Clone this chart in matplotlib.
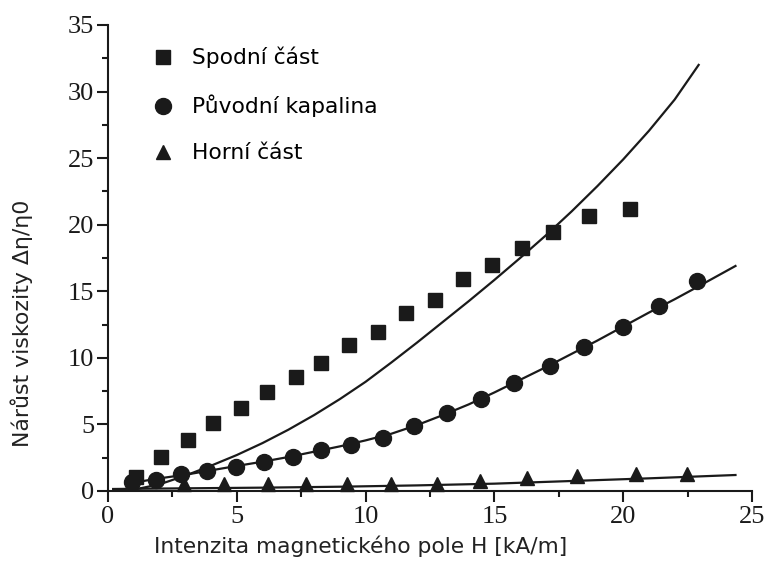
import matplotlib
matplotlib.use("Agg")
import matplotlib.pyplot as plt
from matplotlib.ticker import MultipleLocator

# měřené body
spodni_x = [1.08, 2.05, 3.09, 4.06, 5.16, 6.18, 7.28, 8.28, 9.36, 10.48, 11.57,
            12.68, 13.79, 14.89, 16.08, 17.26, 18.68, 20.27]
spodni_y = [1.07, 2.53, 3.83, 5.09, 6.21, 7.40, 8.59, 9.59, 10.99, 11.92, 13.35,
            14.35, 15.91, 16.98, 18.23, 19.44, 20.66, 21.16]

puvodni_x = [0.95, 1.88, 2.83, 3.86, 4.97, 6.04, 7.17, 8.28, 9.44, 10.67, 11.88,
             13.18, 14.5, 15.76, 17.16, 18.48, 19.99, 21.4, 22.87]
puvodni_y = [0.70, 0.83, 1.26, 1.53, 1.83, 2.21, 2.53, 3.08, 3.46, 4.0, 4.89,
             5.89, 6.92, 8.14, 9.42, 10.85, 12.35, 13.93, 15.79]

horni_x = [2.96, 4.51, 6.2, 7.69, 9.27, 11.0, 12.77, 14.44, 16.25, 18.2, 20.49, 22.48]
horni_y = [0.5, 0.55, 0.5, 0.5, 0.5, 0.5, 0.55, 0.77, 1.0, 1.15, 1.25, 1.3]

# proložené křivky
fit_spodni_x = [1.0, 2, 3, 4, 5, 6, 7, 8, 9, 10, 11, 12, 13, 14, 15, 16, 17, 18,
                19, 20, 21, 22, 22.93]
fit_spodni_y = [0.1, 0.5, 1.15, 1.9, 2.7, 3.6, 4.6, 5.7, 6.9, 8.2, 9.65, 11.15,
                12.7, 14.25, 15.85, 17.5, 19.2, 21.0, 22.9, 24.9, 27.05, 29.4, 32.0]

fit_puvodni_x = [0.9, 2, 3, 4, 5, 6, 7, 8, 9, 10, 11, 12, 13, 14, 15, 16, 17, 18,
                 19, 20, 21, 22, 23, 24.36]
fit_puvodni_y = [0.6, 0.95, 1.22, 1.55, 1.88, 2.2, 2.55, 2.95, 3.35, 3.8, 4.3,
                 4.95, 5.7, 6.5, 7.4, 8.35, 9.3, 10.3, 11.3, 12.35, 13.4, 14.4,
                 15.45, 16.9]

fit_horni_x = [0.2, 3, 6, 9, 12, 15, 18, 21, 24.36]
fit_horni_y = [0.15, 0.2, 0.25, 0.32, 0.42, 0.55, 0.75, 0.95, 1.2]

nazvy = ["Spodní část", "Původní kapalina", "Horní část"]

barva = "#1a1a1a"
plt.rcParams["font.family"] = ["DejaVu Sans"]

fig = plt.figure(figsize=(7.67, 5.65), dpi=100)
ax = fig.add_axes([0.1408, 0.1310, 0.8396, 0.8248])

ax.plot(fit_spodni_x, fit_spodni_y, color=barva, lw=1.6)
ax.plot(fit_puvodni_x, fit_puvodni_y, color=barva, lw=1.6)
ax.plot(fit_horni_x, fit_horni_y, color=barva, lw=1.6)

ax.plot(spodni_x, spodni_y, "s", color=barva, ms=10.5, ls="none",
        label=nazvy[0], clip_on=False)
ax.plot(puvodni_x, puvodni_y, "o", color=barva, ms=11.5, ls="none",
        label=nazvy[1], clip_on=False)
ax.plot(horni_x, horni_y, "^", color=barva, ms=10.5, ls="none",
        label=nazvy[2], clip_on=False)

ax.set_xlim(0, 25)
ax.set_ylim(0, 35)
ax.xaxis.set_major_locator(MultipleLocator(5))
ax.xaxis.set_minor_locator(MultipleLocator(2.5))
ax.yaxis.set_major_locator(MultipleLocator(5))
ax.yaxis.set_minor_locator(MultipleLocator(2.5))

for s in ["top", "right"]:
    ax.spines[s].set_visible(False)
for s in ["left", "bottom"]:
    ax.spines[s].set_linewidth(1.5)
    ax.spines[s].set_color(barva)

ax.tick_params(which="major", length=8, width=1.5, color=barva)
ax.tick_params(which="minor", length=4, width=1.5, color=barva)
ax.tick_params(axis="x", which="major", pad=3)
ax.tick_params(axis="y", which="major", pad=2)
for lab in ax.get_xticklabels() + ax.get_yticklabels():
    lab.set_family("Liberation Serif")
    lab.set_fontsize(19)
    lab.set_color(barva)

ax.set_xlabel("Intenzita magnetického pole H [kA/m]", fontsize=15.7, color="#222222")
ax.set_ylabel("Nárůst viskozity Δη/η0", fontsize=15.8, color="#222222")
ax.xaxis.label.set_va("center")
ax.yaxis.label.set_va("center")
ax.xaxis.set_label_coords(0.393, -0.118)
ax.yaxis.set_label_coords(-0.134, 0.36)

ax.legend(loc="upper left", bbox_to_anchor=(0.069, 0.953), frameon=False,
          fontsize=15.7, numpoints=1, handlelength=1.0, handletextpad=0.8,
          labelspacing=1.2, borderaxespad=0, borderpad=0)

fig.savefig("out.png", dpi=100)
